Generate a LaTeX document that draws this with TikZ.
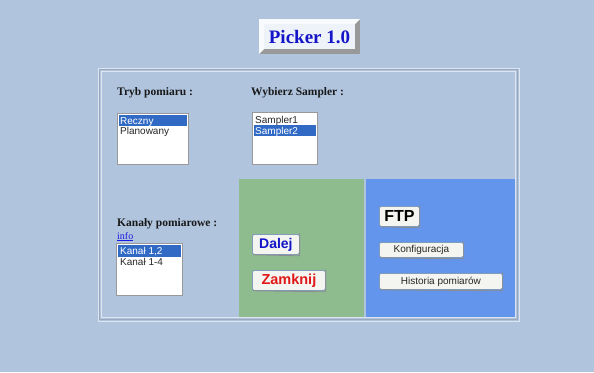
\documentclass[tikz,border=0pt]{standalone}
\usepackage{fontspec}
\setmainfont{Liberation Serif}
\setsansfont{Liberation Sans}
\definecolor{pagebg}{HTML}{B0C4DE}
\definecolor{greenpanel}{HTML}{8FBC8F}
\definecolor{bluepanel}{HTML}{6495ED}
\definecolor{selrow}{HTML}{316AC5}
\definecolor{titleface}{HTML}{EEF2F9}
\definecolor{titleblue}{HTML}{1414C8}
\definecolor{btnface}{HTML}{F4F4F0}
\definecolor{btnedge}{HTML}{7F9DB9}
\definecolor{framelight}{HTML}{DDE5F0}
\definecolor{frameshade}{HTML}{98A8BE}
\definecolor{linkblue}{HTML}{1A1AE0}
\definecolor{redtext}{HTML}{E01818}
\tikzset{
  fieldlabel/.style={anchor=base west, inner sep=0pt, font=\fontsize{11.5}{13}\selectfont\bfseries, text=black!90},
  listbox/.style={draw=black!40, fill=white, line width=0.8pt, inner sep=0pt, anchor=north west},
  listitem/.style={anchor=base west, inner sep=0pt, font=\sffamily\fontsize{10}{12}\selectfont, text=black!85},
  selitem/.style={listitem, text=white},
  button/.style={draw=btnedge, fill=btnface, line width=0.8pt, rounded corners=1.5pt, inner sep=0pt, anchor=north west},
  btnshadow/.style={draw=black!45, line width=0.8pt},
  btntext/.style={inner sep=0pt, font=\sffamily\fontsize{10}{12}\selectfont, text=black!85}
}
\begin{document}
\begin{tikzpicture}[x=1pt,y=-1pt]
\useasboundingbox (0,0) rectangle (594,372);
\fill[pagebg] (0,0) rectangle (594,372);

% title plate with bevelled edge
\fill[black!40] (259,19) rectangle (360,54);
\fill[white!92!pagebg] (259,19) -- (360,19) -- (355,24) -- (264,24) -- (264,49) -- (259,54) -- cycle;
\fill[titleface] (264,24) rectangle (355,49);
\node (title) at (309.5,37) {\fontsize{19}{22}\selectfont\bfseries\color{titleblue}Picker 1.0};

% outer grooved frame
\draw[framelight, line width=0.9pt] (98,68) rectangle (519,321);
\draw[frameshade, line width=0.6pt] (99.7,69.7) rectangle (517.3,319.3);
\draw[framelight, line width=0.9pt] (101.5,71.5) rectangle (515.5,317.5);

% coloured panels
\fill[greenpanel] (239,179) rectangle (364,317);
\fill[bluepanel] (366,179) rectangle (515,317);

% field labels
\node[fieldlabel] (lblTryb) at (117,95) {Tryb pomiaru :};
\node[fieldlabel] (lblSampler) at (251,95) {Wybierz Sampler :};
\node[fieldlabel] (lblKanaly) at (117,226) {Kanały pomiarowe :};
\node[anchor=base west, inner sep=0pt, font=\fontsize{10}{12}\selectfont, text=linkblue] (info) at (117,239) {\underline{info}};

% list: Tryb pomiaru
\node[listbox, minimum width=71pt, minimum height=51pt] (boxTryb) at (117,113) {};
\fill[selrow] (118.5,114.5) rectangle (186.5,126);
\node[selitem] (itReczny) at (120,124) {Reczny};
\node[listitem] (itPlan) at (120,134.5) {Planowany};

% list: Sampler
\node[listbox, minimum width=65pt, minimum height=52pt] (boxSampler) at (252,112) {};
\fill[selrow] (253.5,125) rectangle (315.5,136);
\node[listitem] (itS1) at (255,123.5) {Sampler1};
\node[selitem] (itS2) at (255,134) {Sampler2};

% list: Kanały
\node[listbox, minimum width=66pt, minimum height=52pt] (boxKanaly) at (116,243) {};
\fill[selrow] (117.5,244.5) rectangle (180.5,256.5);
\node[selitem] (itK12) at (120,254.5) {Kanał 1,2};
\node[listitem] (itK14) at (120,265) {Kanał 1-4};

% buttons on the green panel
\node[button, minimum width=47pt, minimum height=20pt] (btnDalej) at (252,234) {};
\draw[btnshadow] ([xshift=1pt]btnDalej.south west) -- ([yshift=-1pt]btnDalej.south east) -- ([yshift=1pt]btnDalej.north east);
\node[btntext, font=\sffamily\fontsize{14}{16}\selectfont\bfseries, text=titleblue] at (btnDalej.center) {Dalej};
\node[button, minimum width=73pt, minimum height=20pt] (btnZamknij) at (252,270) {};
\draw[btnshadow] ([xshift=1pt]btnZamknij.south west) -- ([yshift=-1pt]btnZamknij.south east) -- ([yshift=1pt]btnZamknij.north east);
\node[btntext, font=\sffamily\fontsize{14.5}{16}\selectfont\bfseries, text=redtext] at (btnZamknij.center) {Zamknij};

% buttons on the blue panel
\node[button, minimum width=40pt, minimum height=20pt] (btnFTP) at (379,206) {};
\draw[btnshadow] ([xshift=1pt]btnFTP.south west) -- ([yshift=-1pt]btnFTP.south east) -- ([yshift=1pt]btnFTP.north east);
\node[btntext, font=\sffamily\fontsize{16}{18}\selectfont\bfseries, text=black] at (btnFTP.center) {FTP};
\node[button, minimum width=84pt, minimum height=15pt] (btnKonf) at (379,242) {};
\draw[btnshadow] ([xshift=1pt]btnKonf.south west) -- ([yshift=-1pt]btnKonf.south east) -- ([yshift=1pt]btnKonf.north east);
\node[btntext] at (btnKonf.center) {Konfiguracja};
\node[button, minimum width=123pt, minimum height=16pt] (btnHist) at (379,273) {};
\draw[btnshadow] ([xshift=1pt]btnHist.south west) -- ([yshift=-1pt]btnHist.south east) -- ([yshift=1pt]btnHist.north east);
\node[btntext] at (btnHist.center) {Historia pomiarów};
\end{tikzpicture}
\end{document}
